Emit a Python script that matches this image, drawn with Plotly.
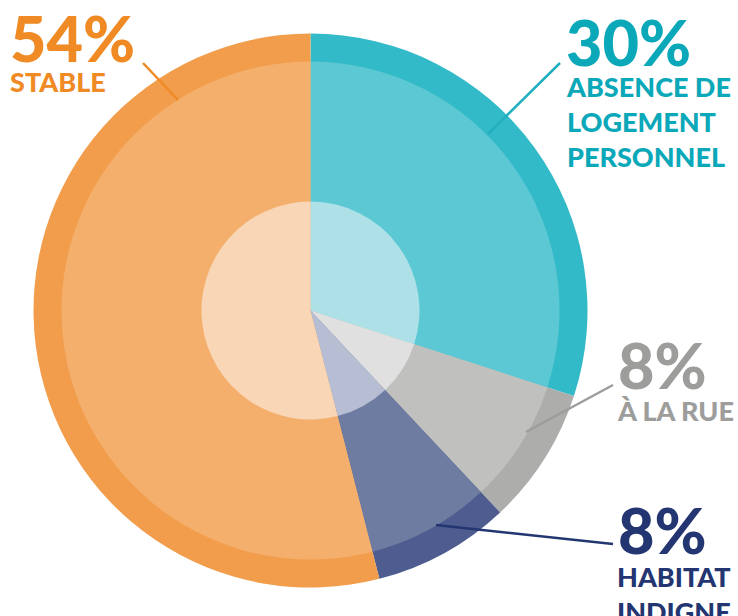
import plotly.graph_objects as go

labels = ["Absence de logement personnel", "À la rue", "Habitat indigne", "Stable"]
values = [30, 8, 8, 54]
pct_text = ["30%", "8%", "8%", "54%"]
cat_text = ["ABSENCE DE<br>LOGEMENT<br>PERSONNEL", "À LA RUE", "HABITAT<br>INDIGNE", "STABLE"]

outer_colors = ["#33BAC8", "#ADADAC", "#4E5C8F", "#F29D4B"]
middle_colors = ["#5CC8D3", "#C0C0BF", "#6F7CA1", "#F4AF6C"]
inner_colors = ["#ADE1E7", "#E0E0E0", "#B7BDD2", "#F9D6B5"]
text_colors = ["#0AA8B8", "#9D9D9C", "#233671", "#EF8A25"]

W, H = 738, 616
cx, cy = 310.5, 310.5
radii = [277, 249, 109]
layer_colors = [outer_colors, middle_colors, inner_colors]

def px_domain(r):
    return dict(x=[(cx - r) / W, (cx + r) / W],
                y=[(H - cy - r) / H, (H - cy + r) / H])

fig = go.Figure()
for r, cols in zip(radii, layer_colors):
    fig.add_trace(go.Pie(
        labels=labels, values=values, sort=False, direction="clockwise",
        rotation=0, domain=px_domain(r), textinfo="none", hoverinfo="skip",
        marker=dict(colors=cols, line=dict(width=0)), showlegend=False))

def px(x):
    return x / W

def py(y):
    return 1 - y / H

font = "'Lato Black', Lato, 'Open Sans', sans-serif"
pct_pos = [(564, 41), (616, 364), (616, 529), (8, 38)]
cat_pos = [(564, 122), (615, 410), (615, 594), (8, 82)]

annotations = []
for i in range(4):
    annotations.append(dict(
        x=px(pct_pos[i][0]), y=py(pct_pos[i][1]), xref="paper", yref="paper",
        xanchor="left", yanchor="middle", showarrow=False, align="left",
        text=pct_text[i], font=dict(family=font, size=63, color=text_colors[i], weight=900)))
    annotations.append(dict(
        x=px(cat_pos[i][0]), y=py(cat_pos[i][1]), xref="paper", yref="paper",
        xanchor="left", yanchor="middle", showarrow=False, align="left",
        text=cat_text[i], font=dict(family=font, size=27, color=text_colors[i], weight=900)))

line_pts = [((560, 63), (488, 134)), ((613, 385), (526, 432)), ((613, 544), (436, 525)), ((143, 63), (178, 100))]
line_colors = ["#1FAFBE", "#9D9D9C", "#233671", "#EF8A25"]
shapes = []
for i, ((x0, y0), (x1, y1)) in enumerate(line_pts):
    shapes.append(dict(type="line", xref="paper", yref="paper",
                       x0=px(x0), y0=py(y0), x1=px(x1), y1=py(y1),
                       line=dict(color=line_colors[i], width=2.5)))

fig.update_layout(width=W, height=H, margin=dict(l=0, r=0, t=0, b=0),
                  paper_bgcolor="white", plot_bgcolor="white",
                  annotations=annotations, shapes=shapes)
fig.write_html("out.html", config={"displayModeBar": False},
               post_script="document.body.style.margin='0';document.body.style.overflow='hidden';")
